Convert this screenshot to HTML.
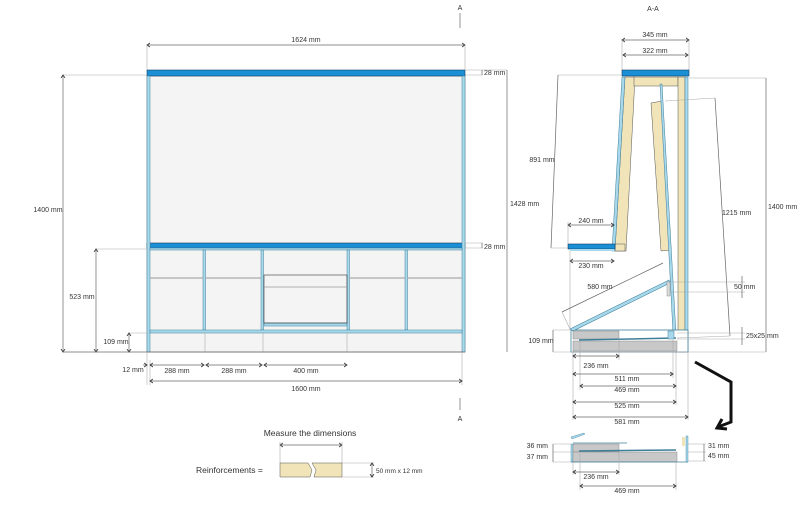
<!DOCTYPE html>
<html><head><meta charset="utf-8"><style>
body{margin:0;background:#fff}
svg{display:block;font-family:"Liberation Sans",sans-serif}
text{font-size:7px;fill:#333}
.d{stroke:#666;stroke-width:0.7;fill:none}
.e{stroke:#aaa;stroke-width:0.6;fill:none}
</style></head><body>
<svg width="800" height="508" viewBox="0 0 800 508" xmlns="http://www.w3.org/2000/svg">
<defs><marker id="a" markerWidth="6" markerHeight="6" refX="3" refY="3" orient="auto-start-reverse" markerUnits="userSpaceOnUse"><path d="M0,1 L3,3 L0,5" fill="none" stroke="#333" stroke-width="0.8"/></marker></defs>

<!-- FRONT VIEW -->
<rect x="147" y="76" width="318" height="276" fill="#f4f4f4" stroke="#888" stroke-width="0.6"/>
<rect x="147" y="70" width="318" height="6" fill="#1a8fd6" stroke="#16405e" stroke-width="0.6"/>
<rect x="147" y="243" width="318" height="5" fill="#1a8fd6" stroke="#16405e" stroke-width="0.6"/>
<g fill="#a8d8ec" stroke="#3e7f98" stroke-width="0.5">
<rect x="147" y="76" width="3" height="276"/><rect x="462" y="76" width="3" height="276"/>
<rect x="150" y="248" width="312" height="2"/>
<rect x="203" y="250" width="2.5" height="80"/><rect x="261" y="250" width="2.5" height="80"/>
<rect x="347" y="250" width="2.5" height="80"/><rect x="405" y="250" width="2.5" height="80"/>
<rect x="150" y="330" width="312" height="3"/>
<rect x="264" y="323" width="83" height="3"/>
</g>
<g stroke="#aaa" stroke-width="1.2"><line x1="150" y1="278" x2="203" y2="278"/><line x1="205" y1="278" x2="261" y2="278"/><line x1="349" y1="278" x2="405" y2="278"/><line x1="407" y1="278" x2="462" y2="278"/></g>
<rect x="264" y="275" width="83" height="48" fill="none" stroke="#333" stroke-width="0.6"/>
<line x1="264" y1="287" x2="347" y2="287" stroke="#999" stroke-width="0.8"/>
<line x1="205" y1="333" x2="205" y2="352" class="e"/><line x1="263" y1="333" x2="263" y2="352" class="e"/><line x1="347" y1="333" x2="347" y2="352" class="e"/>

<!-- front dims -->
<line x1="147" y1="45" x2="465" y2="45" class="d" marker-start="url(#a)" marker-end="url(#a)"/>
<line x1="147" y1="45" x2="147" y2="70" class="e"/><line x1="465" y1="45" x2="465" y2="70" class="e"/>
<text x="306" y="42" text-anchor="middle">1624 mm</text>
<line x1="63" y1="75" x2="147" y2="75" class="e"/>
<line x1="63" y1="75" x2="63" y2="352" class="d" marker-start="url(#a)" marker-end="url(#a)"/>
<text x="48" y="212" text-anchor="middle">1400 mm</text>
<line x1="465" y1="70" x2="507" y2="70" class="e"/>
<line x1="507" y1="70" x2="507" y2="352" class="d"/>
<text x="510" y="206">1428 mm</text>
<line x1="465" y1="75" x2="483" y2="75" class="e"/>
<line x1="482" y1="70" x2="482" y2="75" class="d"/>
<text x="484" y="75">28 mm</text>
<line x1="465" y1="243" x2="483" y2="243" class="e"/><line x1="465" y1="248" x2="483" y2="248" class="e"/>
<line x1="482" y1="243" x2="482" y2="248" class="d"/>
<text x="484" y="249">28 mm</text>
<line x1="96" y1="249" x2="147" y2="249" class="e"/>
<line x1="96" y1="249" x2="96" y2="352" class="d" marker-start="url(#a)" marker-end="url(#a)"/>
<text x="82" y="299" text-anchor="middle">523 mm</text>
<line x1="129" y1="333" x2="147" y2="333" class="e"/>
<line x1="129" y1="333" x2="129" y2="352" class="d" marker-start="url(#a)" marker-end="url(#a)"/>
<text x="116" y="344" text-anchor="middle">109 mm</text>
<line x1="63" y1="352" x2="465" y2="352" class="d"/>
<line x1="147" y1="352" x2="147" y2="385" class="e"/><line x1="462" y1="352" x2="462" y2="385" class="e"/>
<line x1="150" y1="360" x2="150" y2="385" class="e"/>
<line x1="143" y1="365" x2="147" y2="365" class="d" marker-end="url(#a)"/>
<text x="133" y="372" text-anchor="middle">12 mm</text>
<line x1="150" y1="365" x2="204" y2="365" class="d" marker-start="url(#a)" marker-end="url(#a)"/>
<text x="177" y="373" text-anchor="middle">288 mm</text>
<line x1="206" y1="365" x2="262" y2="365" class="d" marker-start="url(#a)" marker-end="url(#a)"/>
<text x="234" y="373" text-anchor="middle">288 mm</text>
<line x1="264" y1="365" x2="347" y2="365" class="d" marker-start="url(#a)" marker-end="url(#a)"/>
<text x="306" y="373" text-anchor="middle">400 mm</text>
<line x1="150" y1="381" x2="462" y2="381" class="d" marker-start="url(#a)" marker-end="url(#a)"/>
<text x="306" y="391" text-anchor="middle">1600 mm</text>
<text x="460" y="10" text-anchor="middle">A</text>
<line x1="460" y1="13" x2="460" y2="28" class="d"/>
<line x1="460" y1="398" x2="460" y2="410" class="d"/>
<text x="460" y="421" text-anchor="middle">A</text>

<!-- SIDE VIEW -->
<text x="653" y="11" text-anchor="middle">A-A</text>
<line x1="622" y1="40" x2="689" y2="40" class="d" marker-start="url(#a)" marker-end="url(#a)"/>
<text x="655" y="37" text-anchor="middle">345 mm</text>
<line x1="623" y1="55" x2="688" y2="55" class="d" marker-start="url(#a)" marker-end="url(#a)"/>
<text x="655" y="53" text-anchor="middle">322 mm</text>
<line x1="622" y1="40" x2="622" y2="70" class="e"/><line x1="689" y1="40" x2="689" y2="70" class="e"/>
<g fill="#f0e4b8" stroke="#555" stroke-width="0.5">
<polygon points="625,77 635,77 626,251 615,251"/>
<rect x="634" y="77" width="44" height="9"/>
<rect x="678" y="77" width="7" height="275"/>
<polygon points="651,103 662,101 671,250 661,251"/>
<rect x="615" y="244" width="10" height="7"/>
</g>
<polygon points="622,77 625,77 615,251 612,251" fill="#a8d8ec" stroke="#3e7f98" stroke-width="0.5"/>
<polygon points="660,84 662,84 677,352 674,352" fill="#a8d8ec" stroke="#3e7f98" stroke-width="0.5"/>
<rect x="685" y="77" width="3" height="275" fill="#a8d8ec" stroke="#3e7f98" stroke-width="0.5"/>
<rect x="622" y="70" width="67" height="6" fill="#1a8fd6" stroke="#16405e" stroke-width="0.6"/>
<rect x="568" y="244" width="47" height="5" fill="#1a8fd6" stroke="#16405e" stroke-width="0.6"/>
<rect x="570" y="249" width="44" height="2" fill="#a8d8ec"/>
<!-- lower box -->
<rect x="571" y="330" width="117" height="22" fill="#fff" stroke="#3e7f98" stroke-width="0.8"/>
<rect x="573" y="331" width="46" height="8" fill="#c8c8c8" stroke="#777" stroke-width="0.4"/>
<rect x="573" y="341" width="104" height="10" fill="#c8c8c8" stroke="#777" stroke-width="0.4"/>
<line x1="579" y1="340" x2="676" y2="338" stroke="#3e7f98" stroke-width="1.5"/>
<rect x="668" y="331" width="6" height="8" fill="#a8d8ec" stroke="#3e7f98" stroke-width="0.5"/>
<polygon points="570,329 669,280 670,283 573,331" fill="#a8d8ec" stroke="#3e7f98" stroke-width="0.6"/>
<rect x="667" y="282" width="3" height="14" fill="#ddd" stroke="#777" stroke-width="0.4"/>
<!-- side dims -->
<line x1="558" y1="75" x2="622" y2="75" class="e"/>
<line x1="558" y1="75" x2="551" y2="248" class="d"/>
<line x1="551" y1="248" x2="568" y2="248" class="e"/>
<text x="542" y="162" text-anchor="middle">891 mm</text>
<line x1="665" y1="101" x2="715" y2="98" class="e"/>
<line x1="715" y1="98" x2="730" y2="336" class="d"/>
<line x1="677" y1="338" x2="730" y2="336" class="e"/>
<text x="722" y="215">1215 mm</text>
<line x1="689" y1="78" x2="766" y2="78" class="e"/>
<line x1="766" y1="78" x2="766" y2="352" class="d"/>
<text x="768" y="209">1400 mm</text>
<line x1="568" y1="225" x2="614" y2="225" class="d" marker-start="url(#a)" marker-end="url(#a)"/>
<text x="591" y="223" text-anchor="middle">240 mm</text>
<line x1="568" y1="222" x2="568" y2="244" class="e"/>
<line x1="570" y1="261" x2="614" y2="261" class="d" marker-start="url(#a)" marker-end="url(#a)"/>
<text x="591" y="268" text-anchor="middle">230 mm</text>
<line x1="570" y1="251" x2="570" y2="330" class="e"/>
<line x1="562" y1="312" x2="663" y2="263" class="d"/>
<line x1="562" y1="312" x2="570" y2="329" class="e"/>
<text x="600" y="289" text-anchor="middle">580 mm</text>
<line x1="670" y1="282" x2="745" y2="282" class="e"/><line x1="670" y1="292" x2="745" y2="292" class="e"/>
<line x1="742" y1="276" x2="742" y2="298" class="d"/>
<text x="734" y="289">50 mm</text>
<line x1="677" y1="333" x2="745" y2="333" class="e"/><line x1="677" y1="339" x2="745" y2="339" class="e"/>
<line x1="742" y1="327" x2="742" y2="345" class="d"/>
<text x="746" y="338">25x25 mm</text>
<line x1="553" y1="330" x2="571" y2="330" class="e"/>
<line x1="553" y1="330" x2="553" y2="352" class="d"/>
<line x1="553" y1="352" x2="766" y2="352" class="e"/>
<text x="541" y="343" text-anchor="middle">109 mm</text>
<g class="e"><line x1="573" y1="352" x2="573" y2="420"/><line x1="619" y1="339" x2="619" y2="360"/><line x1="580" y1="341" x2="580" y2="390"/><line x1="673" y1="340" x2="673" y2="378"/><line x1="676" y1="352" x2="676" y2="405"/><line x1="688" y1="352" x2="688" y2="420"/></g>
<line x1="573" y1="356" x2="619" y2="356" class="d" marker-start="url(#a)" marker-end="url(#a)"/>
<text x="596" y="368" text-anchor="middle">236 mm</text>
<line x1="573" y1="374" x2="673" y2="374" class="d" marker-start="url(#a)" marker-end="url(#a)"/>
<text x="627" y="381" text-anchor="middle">511 mm</text>
<line x1="580" y1="386" x2="676" y2="386" class="d" marker-start="url(#a)" marker-end="url(#a)"/>
<text x="627" y="392" text-anchor="middle">469 mm</text>
<line x1="573" y1="402" x2="676" y2="402" class="d" marker-start="url(#a)" marker-end="url(#a)"/>
<text x="627" y="408" text-anchor="middle">525 mm</text>
<line x1="573" y1="417" x2="688" y2="417" class="d" marker-start="url(#a)" marker-end="url(#a)"/>
<text x="627" y="424" text-anchor="middle">581 mm</text>
<!-- black arrow -->
<polyline points="695,362 731,382 731,422 718,427" fill="none" stroke="#111" stroke-width="3"/>
<polyline points="722,419 717,428 727,429" fill="none" stroke="#111" stroke-width="3"/>

<!-- detail -->
<polygon points="571,437 584,433 585,434 572,439" fill="#a8d8ec" stroke="#3e7f98" stroke-width="0.4"/>
<rect x="571" y="444" width="2" height="18" fill="#a8d8ec" stroke="#3e7f98" stroke-width="0.4"/>
<rect x="573" y="444" width="46" height="8" fill="#c8c8c8" stroke="#777" stroke-width="0.4"/>
<line x1="573" y1="443" x2="627" y2="443" stroke="#3e7f98" stroke-width="0.8"/>
<rect x="573" y="452" width="104" height="10" fill="#c8c8c8" stroke="#777" stroke-width="0.4"/>
<line x1="579" y1="451" x2="676" y2="450" stroke="#3e7f98" stroke-width="1.5"/>
<line x1="571" y1="462" x2="688" y2="462" stroke="#3e7f98" stroke-width="0.8"/>
<rect x="682" y="437" width="3" height="9" fill="#f0e4b8"/><rect x="686" y="436" width="2" height="26" fill="#a8d8ec" stroke="#3e7f98" stroke-width="0.4"/>
<g class="e"><line x1="553" y1="444" x2="571" y2="444"/><line x1="553" y1="452" x2="571" y2="452"/><line x1="553" y1="462" x2="571" y2="462"/>
<line x1="688" y1="444" x2="706" y2="444"/><line x1="688" y1="452" x2="706" y2="452"/><line x1="688" y1="461" x2="706" y2="461"/></g>
<line x1="553" y1="444" x2="553" y2="462" class="d"/><line x1="704" y1="444" x2="704" y2="461" class="d"/>
<text x="548" y="448" text-anchor="end">36 mm</text><text x="548" y="459" text-anchor="end">37 mm</text>
<text x="708" y="448">31 mm</text><text x="708" y="458">45 mm</text>
<line x1="573" y1="462" x2="573" y2="475" class="e"/><line x1="619" y1="452" x2="619" y2="475" class="e"/>
<line x1="580" y1="453" x2="580" y2="490" class="e"/><line x1="676" y1="462" x2="676" y2="490" class="e"/>
<line x1="573" y1="472" x2="619" y2="472" class="d" marker-start="url(#a)" marker-end="url(#a)"/>
<text x="596" y="479" text-anchor="middle">236 mm</text>
<line x1="580" y1="486" x2="676" y2="486" class="d" marker-start="url(#a)" marker-end="url(#a)"/>
<text x="627" y="493" text-anchor="middle">469 mm</text>

<!-- legend -->
<text x="310" y="436" text-anchor="middle" style="font-size:8.5px">Measure the dimensions</text>
<line x1="280" y1="445" x2="342" y2="445" class="d" marker-start="url(#a)" marker-end="url(#a)"/>
<line x1="280" y1="442" x2="280" y2="463" class="e"/><line x1="342" y1="442" x2="342" y2="463" class="e"/>
<text x="196" y="473" style="font-size:8.5px">Reinforcements =</text>
<polygon points="280,463 308,463 312,470 310,477 280,477" fill="#f0e4b8" stroke="#555" stroke-width="0.5"/>
<polygon points="312,463 342,463 342,477 314,477 316,470" fill="#f0e4b8" stroke="#555" stroke-width="0.5"/>
<line x1="342" y1="463" x2="374" y2="463" class="e"/><line x1="342" y1="477" x2="374" y2="477" class="e"/>
<line x1="372" y1="463" x2="372" y2="477" class="d" marker-start="url(#a)" marker-end="url(#a)"/>
<text x="376" y="473" style="font-size:6.5px">50 mm x 12 mm</text>
</svg>
</body></html>
